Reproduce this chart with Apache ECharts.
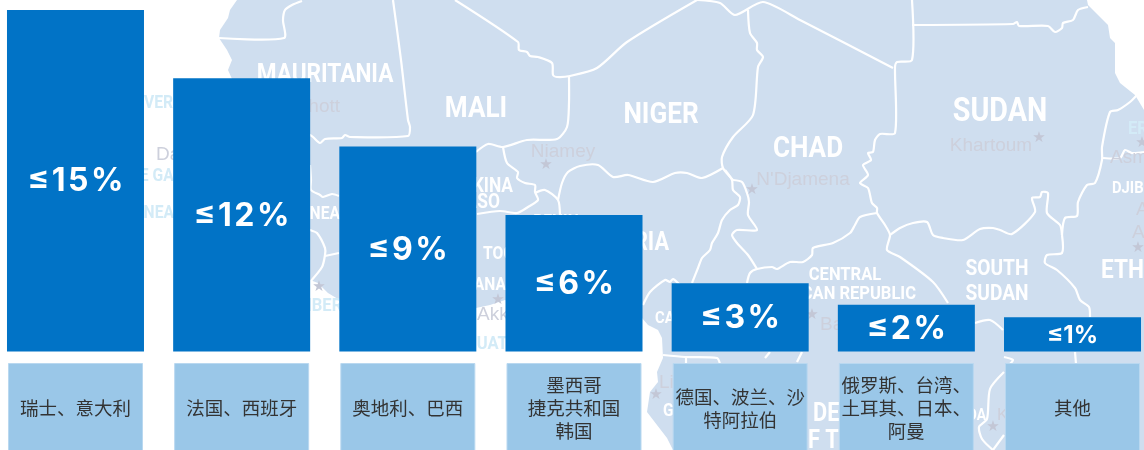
<!DOCTYPE html>
<html>
<head>
<meta charset="utf-8">
<style>
  html, body { margin: 0; padding: 0; background: #fff; }
  #chart { width: 1144px; height: 450px; }
</style>
<script src="https://cdn.jsdelivr.net/npm/echarts@6/dist/echarts.min.js"></script>
</head>
<body>
<div id="chart"></div>
<script>
const countries = ['瑞士、意大利', '法国、西班牙', '奥地利、巴西', '墨西哥\n捷克共和国\n韩国', '德国、波兰、沙\n特阿拉伯', '俄罗斯、台湾、\n土耳其、日本、\n阿曼', '其他']
const barLabels = ['≤15%', '≤12%', '≤9%', '≤6%', '≤3%', '≤2%', '≤1%']
const barValues = [15, 12, 9, 6, 3, 2.05, 1.5]
const boxValues = [1, 1, 1, 1, 1, 1, 1]

// background map, traced by hand, in page pixels
const land = [[237, 0], [230, 10], [228, 18], [220, 30], [219, 38], [227, 50], [232, 60], [228, 70], [232, 79], [250, 170], [300, 275], [310, 280], [318, 283], [328, 293], [338, 299], [400, 310], [476, 308], [490, 305], [505, 300], [560, 320], [642, 318], [648, 325], [658, 330], [662, 338], [663, 358], [657, 372], [658, 382], [650, 392], [647, 412], [667, 438], [672, 448], [678, 455], [1144, 455], [1144, 110], [1135, 95], [1120, 83], [1115, 73], [1115, 43], [1110, 38], [1108, 25], [1088, 5], [1087, 0]]

const borders = [
  [[219, 38], [284, 38], [283, 20], [285, 10], [292, 5], [302, 1]],
  [[393, 0], [401, 60], [408, 120], [410, 127], [408, 136], [350, 137], [345, 135], [342, 138], [325, 139], [320, 143], [313, 137], [310, 135], [300, 130]],
  [[310, 165], [311, 180], [311, 190], [320, 195], [323, 197], [332, 194], [339, 196]],
  [[305, 228], [310, 230], [317, 233], [325, 248], [325, 255], [322, 267], [310, 282]],
  [[325, 256], [339, 253]],
  [[455, 0], [518, 42], [519, 50], [527, 52], [530, 56], [538, 57], [552, 63], [553, 75], [557, 77], [570, 76], [597, 68], [627, 42], [697, 0]],
  [[569, 77], [569, 103], [567, 127], [557, 139], [527, 140], [503, 147], [488, 144], [476, 152]],
  [[503, 147], [507, 163], [518, 172], [517, 178], [525, 183], [535, 185], [535, 192], [538, 200], [528, 207], [517, 213], [500, 211], [477, 214]],
  [[535, 193], [545, 190], [558, 200], [560, 216]],
  [[558, 200], [562, 183], [568, 172], [580, 166], [598, 165], [613, 177], [628, 175], [653, 182], [675, 173], [687, 173], [702, 178], [723, 168]],
  [[748, 10], [750, 33], [757, 43], [757, 50], [763, 57], [758, 67], [753, 115], [733, 137], [722, 157], [723, 168], [733, 180]],
  [[697, 0], [720, 3], [735, 15], [763, 2], [800, 20], [893, 68]],
  [[912, 0], [912, 60], [897, 62], [895, 67], [895, 133], [880, 134], [875, 140], [873, 152], [868, 153], [871, 160], [863, 165], [868, 175], [860, 183], [868, 188], [872, 203], [877, 208], [877, 213], [885, 225], [890, 235], [887, 250], [900, 257], [933, 282], [948, 303]],
  [[912, 25], [1013, 24], [1017, 22], [1019, 26], [1048, 26], [1055, 32], [1062, 28], [1063, 23], [1073, 20], [1078, 10], [1088, 7]],
  [[877, 213], [860, 217], [855, 225], [850, 233], [833, 243], [813, 248], [812, 255], [803, 262], [790, 262], [777, 269], [772, 267], [757, 269], [750, 273], [747, 283]],
  [[725, 170], [732, 180], [733, 190], [740, 197], [738, 205], [730, 210], [722, 220], [718, 233], [712, 243], [710, 250], [702, 258], [698, 268], [692, 283]],
  [[733, 180], [742, 182], [747, 193], [749, 202], [748, 215], [757, 230], [737, 230], [732, 235], [737, 243], [748, 255], [757, 269]],
  [[643, 305], [650, 292], [665, 280], [670, 282], [673, 279], [680, 285]],
  [[890, 235], [900, 228], [913, 223], [927, 222], [933, 235], [943, 238], [963, 240], [980, 229], [993, 228], [1000, 230], [1012, 234], [1035, 212], [1032, 198], [1040, 197], [1042, 192], [1048, 193], [1047, 213], [1060, 225], [1062, 235]],
  [[1062, 235], [1065, 218], [1077, 216], [1078, 202], [1087, 185], [1095, 183], [1102, 160], [1102, 147], [1110, 112], [1118, 110], [1130, 102], [1137, 95]],
  [[1103, 158], [1120, 158], [1125, 150], [1132, 153], [1144, 152]],
  [[1062, 235], [1062, 253], [1047, 255], [1045, 263], [1057, 270], [1075, 288], [1080, 300], [1089, 307], [1090, 317]],
  [[975, 323], [990, 320], [1003, 330]],
  [[1004, 357], [1013, 360], [1010, 364]],
  [[1004, 372], [990, 389], [987, 419], [979, 427], [982, 439], [993, 450]],
  [[993, 450], [1004, 435]],
  [[1075, 352], [1076, 364]],
  [[663, 355], [685, 357], [717, 358], [720, 364]],
  [[686, 357], [686, 364]],
  [[765, 358], [770, 352]],
  [[797, 362], [802, 352]]
]

const capitals = [[319, 287], [498, 300], [546, 165], [752, 190], [1039, 138], [1142, 143], [1138, 248], [993, 427], [656, 395], [812, 315]]

// text, x, y, size, kind, align
const mapLabels = [
  ['MAURITANIA', 325, 75, 26, 'country', 'center'],
  ['MALI', 476, 109, 30, 'country', 'center'],
  ['NIGER', 661, 115, 30, 'country', 'center'],
  ['CHAD', 808, 149, 30, 'country', 'center'],
  ['SUDAN', 1000, 113, 33, 'country', 'center'],
  ['BURKINA', 513, 187, 20, 'country', 'right'],
  ['FASO', 500, 203, 20, 'country', 'right'],
  ['GUINEA', 340, 214, 18, 'country', 'right'],
  ['TOGO', 483, 254, 18, 'country', 'left'],
  ['GHANA', 506, 285, 18, 'country', 'right'],
  ['BENIN', 556, 222, 18, 'country', 'center'],
  ['NIGERIA', 669, 244, 25, 'country', 'right'],
  ['CAMEROON', 655, 319, 17, 'country', 'left'],
  ['CENTRAL', 845, 275, 19, 'country', 'center'],
  ['AFRICAN REPUBLIC', 916, 294, 19, 'country', 'right'],
  ['SOUTH', 997, 269, 22, 'country', 'center'],
  ['SUDAN', 997, 294, 22, 'country', 'center'],
  ['ETHIOPIA', 1101, 271, 26, 'country', 'left'],
  ['DJIBOUTI', 1112, 189, 17, 'country', 'left'],
  ['DEMOCRATIC', 813, 415, 25, 'country', 'left'],
  ['OF THE', 793, 442, 25, 'country', 'left'],
  ['GABON', 663, 411, 18, 'country', 'left'],
  ['UGANDA', 986, 416, 16, 'country', 'right'],
  ['VERDE', 144, 103, 18, 'coast', 'left'],
  ['THE GAMBIA', 119, 176, 18, 'coast', 'left'],
  ['GUINEA', 118, 213, 18, 'coast', 'left'],
  ['LIBERIA', 298, 306, 19, 'coast', 'left'],
  ['EQUATORIAL', 456, 344, 19, 'coast', 'left'],
  ['ERITREA', 1128, 129, 19, 'coast', 'left'],
  ['Dakar', 156, 155, 19, 'capital', 'left'],
  ['Nouakchott', 340, 107, 19, 'capital', 'right'],
  ['Niamey', 563, 152, 19, 'capital', 'center'],
  ["N'Djamena", 803, 180, 19, 'capital', 'center'],
  ['Khartoum', 991, 146, 19, 'capital', 'center'],
  ['Akkra', 477, 315, 19, 'capital', 'left'],
  ['Bangui', 820, 325, 19, 'capital', 'left'],
  ['Libreville', 659, 383, 19, 'capital', 'left'],
  ['Kampala', 997, 415, 17, 'capital', 'left'],
  ['Asmara', 1110, 158, 19, 'capital', 'left'],
  ['Addis', 1136, 210, 19, 'capital', 'left'],
  ['Ababa', 1132, 233, 19, 'capital', 'left']
]

const labelKinds = {
  country: { fill: '#fff', fontWeight: 'bold', fontFamily: 'Roboto, sans-serif' },
  coast: { fill: '#d3ebf7', fontWeight: 'bold', fontFamily: 'Roboto, sans-serif' },
  capital: { fill: '#cdd0dc', fontWeight: 'normal', fontFamily: '"Liberation Sans", sans-serif' }
}

const mapGraphics = [{
  type: 'polygon',
  silent: true,
  shape: { points: land },
  style: { fill: '#cfdeef' }
}]
borders.forEach(points => {
  mapGraphics.push({
    type: 'polyline',
    silent: true,
    shape: { points, smooth: 0.25 },
    style: { stroke: '#fff', lineWidth: 2.2, fill: null, lineJoin: 'round' }
  })
})
capitals.forEach(p => {
  mapGraphics.push({
    type: 'text',
    silent: true,
    x: p[0],
    y: p[1],
    style: { text: '★', fill: '#c3c7d6', fontSize: 15, fontFamily: '"DejaVu Sans"', align: 'center', verticalAlign: 'middle' }
  })
})
mapLabels.forEach(l => {
  mapGraphics.push({
    type: 'text',
    silent: true,
    x: l[1],
    y: l[2],
    // the original map type is condensed, none is installed
    scaleX: l[4] === 'capital' ? 1 : 0.87,
    style: Object.assign({ text: l[0], fontSize: l[3], align: l[5], verticalAlign: 'middle' }, labelKinds[l[4]])
  })
})

const chart = echarts.init(document.getElementById('chart'), null, { renderer: 'canvas' })

chart.setOption({
  animation: false,
  backgroundColor: '#fff',
  graphic: { elements: mapGraphics },
  grid: [
    { left: -7.6, top: 10, width: 1163.2, height: 341.5, outerBoundsMode: 'none' },
    { left: -7.6, top: 363, width: 1163.2, height: 90, outerBoundsMode: 'none' }
  ],
  xAxis: [
    { type: 'category', gridIndex: 0, data: countries, show: false },
    { type: 'category', gridIndex: 1, data: countries, show: false }
  ],
  yAxis: [
    { type: 'value', gridIndex: 0, min: 0, max: 15, show: false },
    { type: 'value', gridIndex: 1, min: 0, max: 1, show: false }
  ],
  series: [{
    name: 'rate',
    type: 'bar',
    xAxisIndex: 0,
    yAxisIndex: 0,
    barWidth: 137,
    z: 5,
    itemStyle: { color: '#0173c6' },
    data: barValues.map((value, i) => ({
      value,
      label: i === barValues.length - 1 ? { fontSize: 24, offset: [0, 1] } : {}
    })),
    label: {
      show: true,
      position: 'inside',
      offset: [0, 1],
      color: '#fff',
      fontSize: 32,
      fontWeight: 'bold',
      fontFamily: 'Inter, sans-serif',
      // the label type is wide set, the last one is not
      formatter: p => p.dataIndex === barLabels.length - 1 ? barLabels[p.dataIndex] : barLabels[p.dataIndex].split('').join('\u200a')
    }
  }, {
    name: 'countries',
    type: 'bar',
    xAxisIndex: 1,
    yAxisIndex: 1,
    barWidth: 135,
    z: 4,
    itemStyle: { color: '#9ac7e8', borderColor: '#b9d8f0', borderWidth: 1 },
    data: boxValues,
    label: {
      show: true,
      position: 'inside',
      color: '#333',
      fontSize: 18.5,
      lineHeight: 23,
      fontFamily: '"Noto Sans CJK SC", sans-serif',
      formatter: p => countries[p.dataIndex]
    }
  }]
})

window.addEventListener('resize', () => {
  chart.resize()
})
</script>
</body>
</html>
